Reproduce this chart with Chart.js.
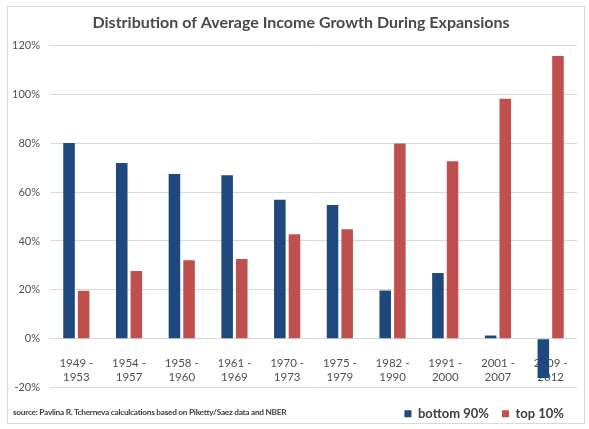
<!DOCTYPE html>
<html>
<head>
<meta charset="utf-8">
<script src="https://cdn.jsdelivr.net/npm/chart.js@4"></script>
<style>
  html, body { margin: 0; padding: 0; background: #fff; }
  #wrap { position: relative; width: 589px; height: 429px; overflow: hidden; }
  #frame { position: absolute; left: 7px; top: 6px; width: 578px; height: 418px; border: 1px solid #d9d9d9; box-sizing: border-box; }
  #c { position: absolute; left: 0; top: 0; }
  #source { position: absolute; left: 13px; top: 407px; font-family: Lato, sans-serif; font-weight: bold; font-size: 8.3px; letter-spacing: -0.28px; color: #404040; white-space: nowrap; }
</style>
</head>
<body>
<div id="wrap">
  <div id="frame"></div>
  <canvas id="c" width="589" height="429"></canvas>
  <div id="source">source: Pavlina R. Tcherneva calculcations based on Piketty/Saez data and NBER</div>
</div>
<script>
const titleText = 'Distribution of Average Income Growth During Expansions';
const categories = [
  ['1949 -', '1953'], ['1954 -', '1957'], ['1958 -', '1960'], ['1961 -', '1969'], ['1970 -', '1973'],
  ['1975 -', '1979'], ['1982 -', '1990'], ['1991 -', '2000'], ['2001 -', '2007'], ['2009 -', '2012']
];
const seriesNames = ['bottom 90%', 'top 10%'];
const bottom90 = [80, 71.9, 67.4, 66.9, 56.8, 54.7, 19.8, 26.9, 1.4, -16.0];
const top10 = [19.7, 27.7, 32.1, 32.6, 42.7, 44.8, 79.8, 72.6, 98.1, 115.6];
const yMin = -20, yMax = 120, yStep = 20;

Chart.defaults.font.family = 'Lato, sans-serif';
new Chart(document.getElementById('c'), {
  type: 'bar',
  data: {
    labels: categories,
    datasets: [
      { label: seriesNames[0], data: bottom90, backgroundColor: '#1F497D', categoryPercentage: 0.555, barPercentage: 0.79 },
      { label: seriesNames[1], data: top10, backgroundColor: '#C0504D', categoryPercentage: 0.555, barPercentage: 0.79 }
    ]
  },
  options: {
    responsive: false,
    animation: false,
    layout: { padding: { left: 13, right: 0, top: 0, bottom: -1.2 } },
    plugins: {
      title: {
        display: true, text: titleText, color: '#4a4a4a',
        font: { size: 16, weight: 'bold' },
        padding: { top: 13, bottom: 13 }
      },
      legend: {
        position: 'bottom', align: 'end', fullSize: false,
        title: { display: true, text: ' ', font: { size: 1, lineHeight: 1 }, padding: { top: 5.4, bottom: 0 } },
        labels: { boxWidth: 7, boxHeight: 7, padding: 13, color: '#404040', font: { size: 13, weight: 'bold' } }
      },
      tooltip: { enabled: false }
    },
    scales: {
      x: {
        position: { y: 0 },
        grid: { display: false },
        border: { display: false },
        ticks: { color: '#505050', font: { size: 11.5, lineHeight: 1.25 }, padding: 9, autoSkip: false, maxRotation: 0 },
        afterFit: s => { s.height = 0; }
      },
      y: {
        min: yMin, max: yMax,
        grid: { color: '#d9d9d9', drawTicks: false },
        border: { display: false },
        ticks: { stepSize: yStep, color: '#505050', font: { size: 11 }, padding: 10, callback: v => v + '%' },
        afterFit: s => { s.width = 37; }
      },
      yRight: {
        position: 'right',
        grid: { display: false },
        border: { display: false },
        ticks: { display: false },
        afterFit: s => { s.width = 12; }
      }
    }
  }
});
</script>
</body>
</html>
